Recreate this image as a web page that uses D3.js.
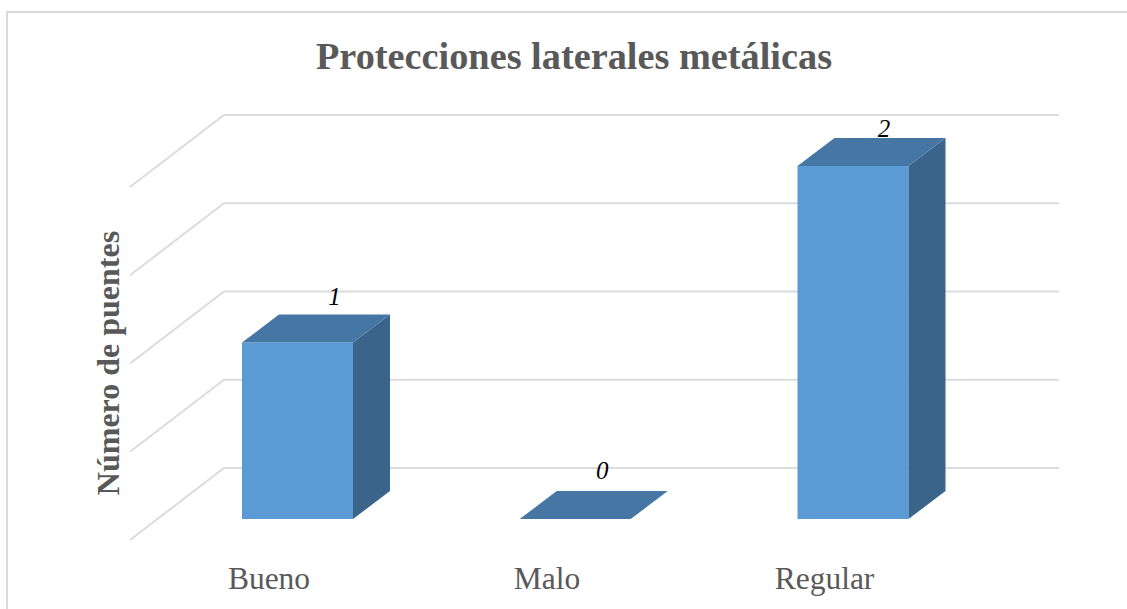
<!DOCTYPE html>
<html><head><meta charset="utf-8">
<script src="https://cdnjs.cloudflare.com/ajax/libs/d3/7.8.5/d3.min.js"></script>
<style>html,body{margin:0;padding:0;background:#fff}svg{display:block}text{font-family:"Liberation Serif",serif}</style>
</head><body><svg id="c" width="1127" height="609"></svg>
<script>
const categories=["Bueno","Malo","Regular"];
const values=[1,0,2];
const gridVals=[0,1,2,3,4];
const title="Protecciones laterales metálicas";
const yTitle="Número de puentes";
const svg=d3.select("#c");
svg.append("path").attr("d","M7,609V12H1127").attr("fill","none").attr("stroke","#dadada").attr("stroke-width",2);
const xc=d3.scalePoint().domain(categories).range([297.5,853]);
const y=d3.scaleLinear().domain([0,2]).range([519,166]);
const grid=d3.scaleLinear().domain([0,4]).range([540,187]);
const dx=37,dy=-28,barW=111;
const g=svg.append("g");
gridVals.forEach(v=>{
  const yy=grid(v);
  g.append("path").attr("fill","none").attr("stroke","#dcdcdc").attr("stroke-width",2)
   .attr("d",`M130,${yy}L224,${yy-72}H1059`);
});
const labelDx=[37,27,31], labelDy=[-10,-12,-1], axisX=[269,547,824.5];
categories.forEach((c,i)=>{
  const v=values[i],l=xc(c)-barW/2,r=l+barW,t=y(v),b=y(0);
  const gb=svg.append("g");
  if(v>0){
    gb.append("rect").attr("x",l).attr("y",t).attr("width",barW).attr("height",b-t).attr("fill","#5b9bd5");
    gb.append("path").attr("d",`M${r},${t}L${r+dx},${t+dy}V${b+dy}L${r},${b}Z`).attr("fill","#3a6489");
  }
  gb.append("path").attr("d",`M${l},${t}L${l+dx},${t+dy}H${r+dx}L${r},${t}Z`).attr("fill","#4676a3");
  svg.append("text").attr("x",xc(c)+labelDx[i]).attr("y",t+dy+labelDy[i]).attr("text-anchor","middle")
    .attr("font-style","italic").attr("font-size",25).attr("fill","#000").text(v);
  svg.append("text").attr("x",axisX[i]).attr("y",589).attr("text-anchor","middle")
    .attr("font-size",31.5).attr("fill","#595959").text(c);
});
svg.append("text").attr("x",574).attr("y",69).attr("text-anchor","middle").attr("font-weight","bold")
  .attr("font-size",38.3).attr("fill","#595959").text(title);
svg.append("text").attr("transform","translate(119,363) rotate(-90)").attr("text-anchor","middle").attr("font-weight","bold")
  .attr("font-size",32).attr("fill","#595959").text(yTitle);
</script></body></html>
